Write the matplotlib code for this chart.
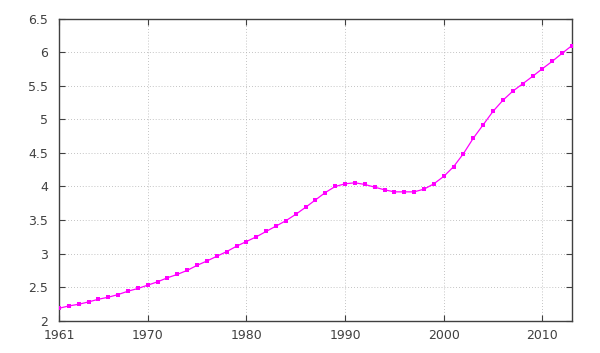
import matplotlib
matplotlib.use('Agg')
import matplotlib.pyplot as plt

# years and values
years = list(range(1961, 2014))
values = [2.185, 2.22, 2.245, 2.28, 2.32, 2.35, 2.39, 2.44, 2.48, 2.53,
          2.58, 2.64, 2.69, 2.75, 2.825, 2.89, 2.96, 3.03, 3.11, 3.18,
          3.25, 3.33, 3.41, 3.49, 3.585, 3.69, 3.80, 3.91, 4.00, 4.04,
          4.055, 4.03, 3.99, 3.95, 3.92, 3.92, 3.92, 3.96, 4.04, 4.15,
          4.295, 4.49, 4.72, 4.92, 5.12, 5.285, 5.42, 5.53, 5.64, 5.755,
          5.865, 5.985, 6.10]
x_ticks = [1961, 1970, 1980, 1990, 2000, 2010]
y_ticks = [2, 2.5, 3, 3.5, 4, 4.5, 5, 5.5, 6, 6.5]
y_labels = ['2', '2.5', '3', '3.5', '4', '4.5', '5', '5.5', '6', '6.5']

fig = plt.figure(figsize=(6, 3.53), dpi=100)
ax = fig.add_axes([0.0983, 0.0915, 0.855, 0.8555])

ax.plot(years, values, '-s', color='#ff00ff', lw=0.9, markersize=3,
        markeredgewidth=0, zorder=3)

ax.set_xlim(1961, 2013)
ax.set_ylim(2, 6.5)
ax.set_xticks(x_ticks)
ax.set_yticks(y_ticks)
ax.set_yticklabels(y_labels)

# grid lines, skipping the edges
for x in x_ticks[1:]:
    ax.axvline(x, color='#b0b0b0', lw=0.6, ls=(0, (1, 2.5)), zorder=1)
for y in y_ticks[1:-1]:
    ax.axhline(y, color='#b0b0b0', lw=0.6, ls=(0, (1, 2.5)), zorder=1)

for side in ax.spines.values():
    side.set_color('#404040')
    side.set_linewidth(1)

ax.tick_params(direction='in', top=True, right=True, length=4, width=0.8,
               color='#404040', labelcolor='#404040', labelsize=9)
ax.tick_params(axis='x', pad=6)
ax.tick_params(axis='y', pad=8)

plt.savefig('out.png', dpi=100)
